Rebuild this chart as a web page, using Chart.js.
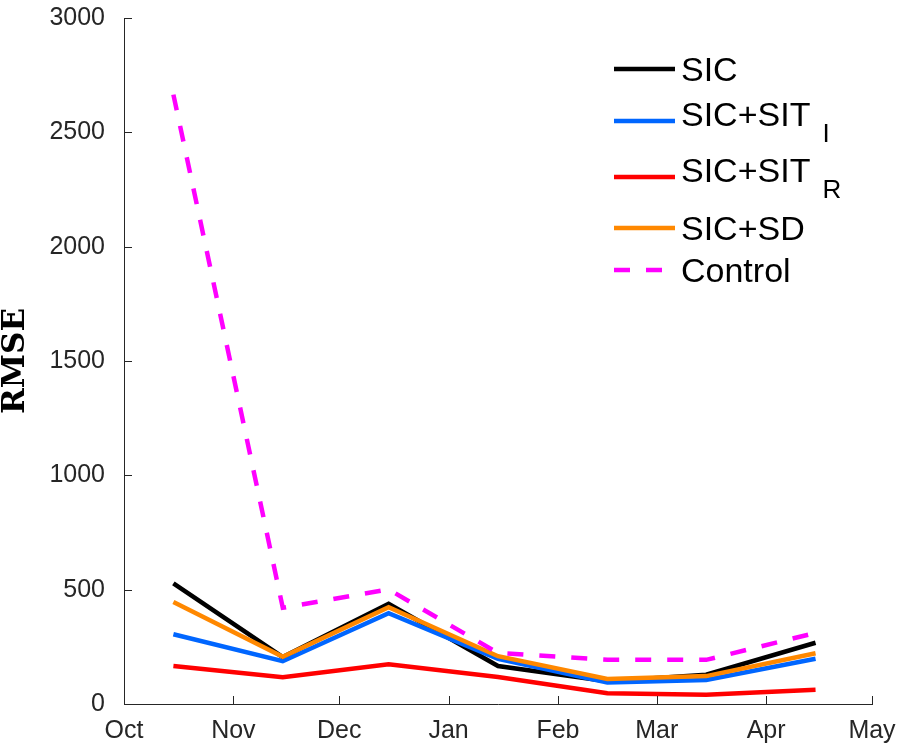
<!DOCTYPE html>
<html lang="en">
<head>
<meta charset="UTF-8">
<title>RMSE by month</title>
<script src="https://cdn.jsdelivr.net/npm/chart.js"></script>
<style>
    html, body { margin: 0; padding: 0; background: #fff; }
    #wrap { width: 902px; height: 747px; position: relative; }
</style>
</head>
<body>
<div id="wrap"><canvas id="chart"></canvas></div>
<script>
// month axis: days counted from Oct 1
const monthLabels = ['Oct', 'Nov', 'Dec', 'Jan', 'Feb', 'Mar', 'Apr', 'May'];
const monthStarts = [0, 31, 61, 92, 123, 151, 182, 212];
const sampleDays  = [14, 45, 75, 106, 137, 165, 196];   // mid-month

const yTicks = [0, 500, 1000, 1500, 2000, 2500, 3000];

const rmseSIC     = [528, 205, 438, 166, 100, 128, 268];
const rmseSITI    = [305, 187, 397, 198, 94, 105, 198];
const rmseSITR    = [166, 117, 174, 118, 47, 40, 62];
const rmseSD      = [446, 207, 423, 209, 109, 122, 222];
const rmseControl = [2665, 421, 501, 223, 193, 193, 311];

function pts(vals) {
    return vals.map((v, i) => ({ x: sampleDays[i], y: v }));
}

const axisColor = '#262626';

// MATLAB style ticks pointing into the plot
const insideTicks = {
    id: 'insideTicks',
    afterDraw(chart) {
        const ctx = chart.ctx;
        const xs = chart.scales.x, ys = chart.scales.y;
        const a = chart.chartArea;
        ctx.save();
        ctx.strokeStyle = axisColor;
        ctx.lineWidth = 1;
        ctx.beginPath();
        monthStarts.forEach(d => {
            const px = Math.round(xs.getPixelForValue(d)) + 0.5;
            ctx.moveTo(px, a.bottom);
            ctx.lineTo(px, a.bottom - 8);
        });
        yTicks.forEach(v => {
            const py = Math.round(ys.getPixelForValue(v)) + 0.5;
            ctx.moveTo(a.left, py);
            ctx.lineTo(a.left + 8, py);
        });
        ctx.stroke();
        ctx.restore();
    }
};

// legend with subscripts ("SIC+SIT_I")
const subLegend = {
    id: 'subLegend',
    afterDraw(chart, args, opts) {
        const ctx = chart.ctx;
        ctx.save();
        chart.data.datasets.forEach((ds, i) => {
            const cy = opts.rows[i];
            const parts = ds.label.split('_');
            const lineY = cy + (parts[1] ? opts.subShift : 0);
            ctx.strokeStyle = ds.borderColor;
            ctx.lineWidth = ds.borderWidth;
            ctx.setLineDash(ds.borderDash || []);
            ctx.beginPath();
            ctx.moveTo(opts.x, lineY);
            ctx.lineTo(opts.x + opts.lineLen, lineY);
            ctx.stroke();
            ctx.setLineDash([]);

            const tx = opts.x + opts.lineLen + opts.gap;
            const base = cy + opts.capHalf;
            ctx.fillStyle = '#000';
            ctx.textAlign = 'left';
            ctx.textBaseline = 'alphabetic';
            ctx.font = opts.font;
            ctx.fillText(parts[0], tx, base);
            if (parts[1]) {
                const w = ctx.measureText(parts[0]).width;
                ctx.font = opts.subFont;
                ctx.fillText(parts[1], tx + w + opts.subGap, base + opts.subDrop);
            }
        });
        ctx.restore();
    }
};

Chart.defaults.font.family = '"Liberation Sans", Arial, sans-serif';
Chart.defaults.color = axisColor;

new Chart(document.getElementById('chart'), {
    type: 'line',
    data: {
        datasets: [
            { label: 'SIC', data: pts(rmseSIC), borderColor: '#000000', order: 5 },
            { label: 'SIC+SIT_I', data: pts(rmseSITI), borderColor: '#0066ff', order: 4 },
            { label: 'SIC+SIT_R', data: pts(rmseSITR), borderColor: '#ff0000', order: 3 },
            { label: 'SIC+SD', data: pts(rmseSD), borderColor: '#ff8800', order: 2 },
            { label: 'Control', data: pts(rmseControl), borderColor: '#ff00ff', borderDash: [16, 16], order: 1 }
        ].map(d => Object.assign({ borderWidth: 4.5, pointRadius: 0, fill: false, tension: 0 }, d))
    },
    options: {
        responsive: true,
        maintainAspectRatio: false,
        animation: false,
        events: [],
        layout: { padding: { top: 18, right: 30, left: 0, bottom: 0 } },
        plugins: {
            legend: { display: false },
            tooltip: { enabled: false },
            subLegend: {
                x: 614, lineLen: 61, gap: 6,
                rows: [69, 114, 170, 228, 270],
                subShift: 7, capHalf: 12,
                font: '34px "Liberation Sans", Arial, sans-serif',
                subFont: '26px "Liberation Sans", Arial, sans-serif',
                subGap: 12, subDrop: 16
            }
        },
        scales: {
            x: {
                type: 'linear',
                min: monthStarts[0],
                max: monthStarts[monthStarts.length - 1],
                afterBuildTicks: s => { s.ticks = monthStarts.map(v => ({ value: v })); },
                afterFit: s => { s.height = 43; s.paddingLeft = 0; s.paddingRight = 0; },
                ticks: {
                    autoSkip: false, maxRotation: 0, padding: 12,
                    font: { size: 25 },
                    callback: v => monthLabels[monthStarts.indexOf(v)]
                },
                grid: { display: true, drawOnChartArea: false, drawTicks: false },
                border: { color: axisColor, width: 1 }
            },
            y: {
                min: 0, max: 3000,
                afterBuildTicks: s => { s.ticks = yTicks.map(v => ({ value: v })); },
                afterFit: s => { s.width = 124; s.paddingTop = 0; s.paddingBottom = 0; },
                ticks: { padding: 19, font: { size: 25 }, callback: v => String(v) },
                grid: { display: true, drawOnChartArea: false, drawTicks: false },
                border: { color: axisColor, width: 1 },
                title: {
                    display: true, text: 'RMSE', color: '#000',
                    padding: 0,
                    font: { family: '"DejaVu Serif", "Liberation Serif", serif', size: 31, weight: 'bold', lineHeight: 1 }
                }
            }
        }
    },
    plugins: [insideTicks, subLegend]
});
</script>
</body>
</html>
